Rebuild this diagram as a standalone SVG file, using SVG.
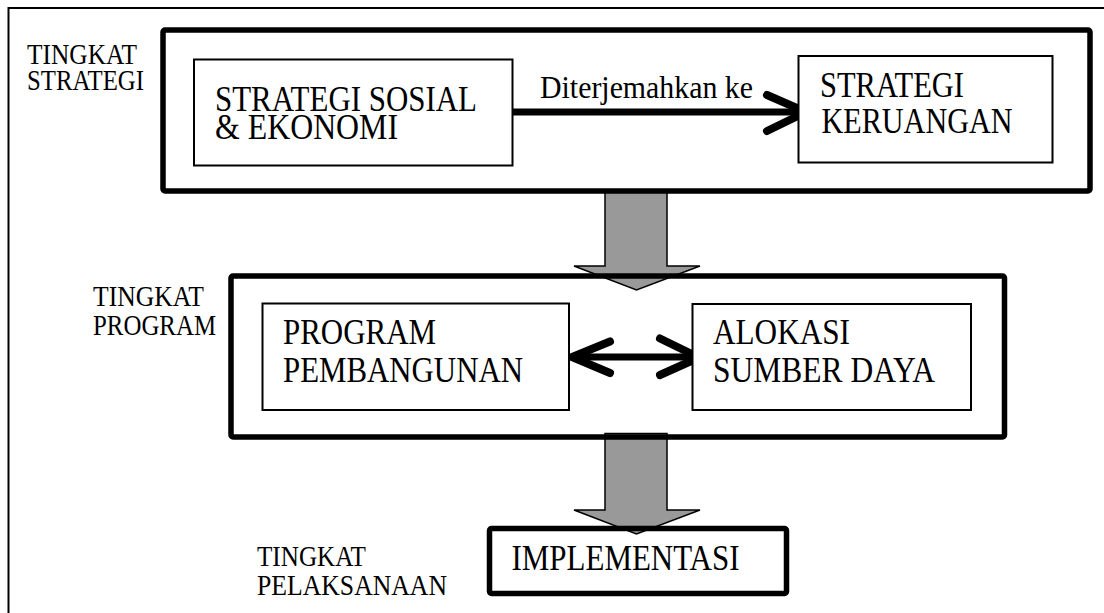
<svg xmlns="http://www.w3.org/2000/svg" width="1104" height="613" viewBox="0 0 1104 613">
  <!-- shared looks are set once on the parent groups and inherited -->

  <!-- page frame -->
  <path fill="none" stroke="#000" stroke-width="2" d="M8.5 613 V8 H1104"/>

  <!-- level labels -->
  <g font-family="'Liberation Serif'" font-size="29" lengthAdjust="spacingAndGlyphs">
    <g id="label-strategi">
      <text x="27" y="64" textLength="110" lengthAdjust="spacingAndGlyphs">TINGKAT</text>
      <text x="27" y="90" textLength="117" lengthAdjust="spacingAndGlyphs">STRATEGI</text>
    </g>
    <g id="label-program">
      <text x="93" y="306" textLength="111" lengthAdjust="spacingAndGlyphs">TINGKAT</text>
      <text x="93" y="335" textLength="123" lengthAdjust="spacingAndGlyphs">PROGRAM</text>
    </g>
    <g id="label-pelaksanaan">
      <text x="257" y="566" textLength="109" lengthAdjust="spacingAndGlyphs">TINGKAT</text>
      <text x="257" y="595" textLength="190" lengthAdjust="spacingAndGlyphs">PELAKSANAAN</text>
    </g>
  </g>

  <!-- connectors: block arrows between levels and the two black arrows -->
  <g id="connectors">
    <g fill="#999" stroke="#000" stroke-width="1.5">
      <polygon points="605,190.5 667,190.5 667,266 700,266 636.5,290 574,266 605,266"/>
      <polygon points="605,433.5 667,433.5 667,510 700,510 636.5,534 574,510 605,510"/>
    </g>
    <g fill="none" stroke="#000" stroke-width="7">
      <line x1="512" y1="112" x2="800" y2="112"/>
      <line x1="572" y1="357" x2="699" y2="357"/>
    </g>
    <g fill="none" stroke="#000" stroke-width="8" stroke-linecap="round">
      <polyline points="767,95 806,112 767,131"/>
      <polyline points="610,341.5 572,357 610,373"/>
      <polyline points="660,338.5 699,357.5 660,375"/>
    </g>
    <text font-family="'Liberation Serif'" font-size="32" x="540" y="98" textLength="213" lengthAdjust="spacingAndGlyphs">Diterjemahkan ke</text>
  </g>

  <!-- thick level frames, drawn over the block arrows -->
  <g fill="none" stroke="#000" stroke-width="5.5" stroke-linejoin="round">
    <g id="level-strategi"><rect x="163" y="30" width="927" height="161" rx="2"/></g>
    <g id="level-program"><rect x="231" y="276" width="773.5" height="161" rx="2"/></g>
  </g>

  <g font-family="'Liberation Serif'" font-size="35">
    <g id="node-sosial-ekonomi">
      <rect fill="#fff" stroke="#000" stroke-width="2" x="194" y="59.5" width="318.5" height="106"/>
      <text x="215" y="111" textLength="262" lengthAdjust="spacingAndGlyphs">STRATEGI SOSIAL</text>
      <text x="215" y="139" textLength="183" lengthAdjust="spacingAndGlyphs">&amp; EKONOMI</text>
    </g>

    <g id="node-keruangan">
      <rect fill="#fff" stroke="#000" stroke-width="2" x="798.5" y="56" width="254" height="106.5"/>
      <text x="820" y="97" textLength="144" lengthAdjust="spacingAndGlyphs">STRATEGI</text>
      <text x="821.5" y="133" textLength="191" lengthAdjust="spacingAndGlyphs">KERUANGAN</text>
    </g>

    <g id="node-pembangunan">
      <rect fill="#fff" stroke="#000" stroke-width="2" x="262.5" y="303.5" width="306.5" height="106.5"/>
      <text x="283" y="344" textLength="153" lengthAdjust="spacingAndGlyphs">PROGRAM</text>
      <text x="283" y="381.5" textLength="240" lengthAdjust="spacingAndGlyphs">PEMBANGUNAN</text>
    </g>

    <g id="node-alokasi">
      <rect fill="#fff" stroke="#000" stroke-width="2" x="692.5" y="304" width="278.5" height="106"/>
      <text x="713" y="344" textLength="137" lengthAdjust="spacingAndGlyphs">ALOKASI</text>
      <text x="713" y="382" textLength="222" lengthAdjust="spacingAndGlyphs">SUMBER DAYA</text>
    </g>

    <g id="node-implementasi">
      <rect fill="none" stroke="#000" stroke-width="5.5" stroke-linejoin="round" x="489.5" y="528.5" width="297" height="65" rx="2"/>
      <text x="511.5" y="570" textLength="228" lengthAdjust="spacingAndGlyphs">IMPLEMENTASI</text>
    </g>
  </g>
</svg>
